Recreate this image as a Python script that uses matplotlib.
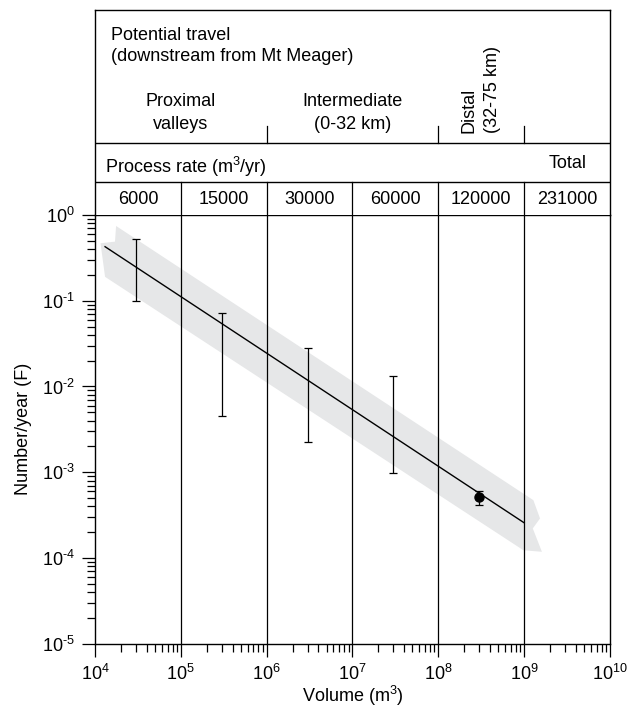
import matplotlib
matplotlib.use("Agg")
import matplotlib.pyplot as plt
import numpy as np
from matplotlib.ticker import FuncFormatter

plt.rcParams["font.family"] = ["Liberation Sans", "DejaVu Sans"]
plt.rcParams["mathtext.fontset"] = "custom"
plt.rcParams["mathtext.rm"] = "Liberation Sans"
plt.rcParams["mathtext.it"] = "Liberation Sans:italic"
plt.rcParams["mathtext.bf"] = "Liberation Sans:bold"
plt.rcParams["font.size"] = 13

# decade boundaries and process rates per volume class
decades = [1e4, 1e5, 1e6, 1e7, 1e8, 1e9, 1e10]
process_rates = ["6000", "15000", "30000", "60000", "120000", "231000"]
travel_dividers = [1e6, 1e8, 1e9]

# best-fit frequency line
fit_volume = [1.31e4, 1e9]
fit_freq = [0.427, 2.57e-4]

# uncertainty band outline
band_volume = [1.76e4, 1.28e9, 1.53e9, 1.26e9, 1.61e9, 9.8e8, 1.31e4, 1.16e4, 1.71e4]
band_freq = [0.745, 4.72e-4, 2.89e-4, 2.21e-4, 1.18e-4, 1.23e-4, 0.19, 0.468, 0.489]

# range bars per volume class
range_volume = [3e4, 3e5, 3e6, 3e7]
range_low = [0.10, 0.0045, 0.00223, 0.00098]
range_high = [0.52, 0.071, 0.028, 0.0133]

# observed event
obs_volume = [3e8]
obs_freq = [5.2e-4]
obs_low = [4.2e-4]
obs_high = [6.1e-4]


def power_label(value, _pos):
    exp = int(round(np.log10(value)))
    return r"$\mathdefault{10^{\text{%d}}}$" % exp


W, H = 637, 710
fig = plt.figure(figsize=(W / 100, H / 100), dpi=100)

left, right = 95 / W, 610 / W
ax_bottom, ax_top = (H - 643.7) / H, (H - 215) / H
head_top = (H - 10) / H

ax = fig.add_axes([left, ax_bottom, right - left, ax_top - ax_bottom])
hx = fig.add_axes([left, ax_top, right - left, head_top - ax_top])

ax.set_xscale("log")
ax.set_yscale("log")
ax.set_xlim(1e4, 1e10)
ax.set_ylim(1e-5, 1)

ax.fill(band_volume, band_freq, color="#e6e7e8", lw=0, zorder=1)
for d in decades[1:-1]:
    ax.axvline(d, color="black", lw=0.9, zorder=2)
ax.plot(fit_volume, fit_freq, color="black", lw=1.0, zorder=3)

lo = np.array(range_low)
hi = np.array(range_high)
ax.errorbar(range_volume, hi, yerr=[hi - lo, np.zeros_like(hi)], fmt="none",
            ecolor="black", elinewidth=0.9, capsize=2.8, capthick=0.9, zorder=4)
olo = np.array(obs_low)
ohi = np.array(obs_high)
of = np.array(obs_freq)
ax.errorbar(obs_volume, of, yerr=[of - olo, ohi - of], fmt="o", color="black",
            ms=6.5, elinewidth=0.9, capsize=3, capthick=0.9, zorder=5)

ax.set_xticks(decades)
ax.set_yticks([1e-5, 1e-4, 1e-3, 1e-2, 1e-1, 1])
ax.xaxis.set_major_formatter(FuncFormatter(power_label))
ax.yaxis.set_major_formatter(FuncFormatter(power_label))
ax.tick_params(which="major", direction="out", length=9.3, width=0.9, pad=5)
ax.tick_params(which="minor", direction="out", length=5.6, width=0.9)
ax.tick_params(axis="x", which="major", pad=5)
for s in ax.spines.values():
    s.set_linewidth(1.0)
ax.set_xlabel("Volume (m$^3$)", labelpad=0)
ax.set_ylabel("Number/year (F)", labelpad=7)

# header table
hx.set_xscale("log")
hx.set_xlim(1e4, 1e10)
hx.set_ylim(0, 1)
hx.set_xticks([])
hx.set_yticks([])
hx.minorticks_off()
for s in hx.spines.values():
    s.set_linewidth(1.0)
hx.spines["bottom"].set_visible(False)

row_num_top = (215 - 181.7) / 205
row_rate_top = (215 - 143.3) / 205
tick_top = (215 - 126) / 205
hx.axhline(row_num_top, color="black", lw=1.0)
hx.axhline(row_rate_top, color="black", lw=1.0)
for d in decades[1:-1]:
    hx.plot([d, d], [0, row_num_top], color="black", lw=0.9)
for d in travel_dividers:
    hx.plot([d, d], [row_rate_top, tick_top], color="black", lw=0.9)

for a, b, rate in zip(decades[:-1], decades[1:], process_rates):
    hx.text(np.sqrt(a * b), (215 - 199.3) / 205, rate, ha="center", va="center")

hx.text(0.0194, (215 - 166.7) / 205, "Process rate (m$^3$/yr)", transform=hx.transAxes,
        ha="left", va="center")
hx.text(0.9548, (215 - 163) / 205, "Total", transform=hx.transAxes, ha="right", va="center")
hx.text(0.0305, (215 - 46) / 205, "Potential travel\n(downstream from Mt Meager)",
        transform=hx.transAxes, ha="left", va="center", linespacing=1.37)
hx.text(1e5, (215 - 113.3) / 205, "Proximal\nvalleys", ha="center", va="center",
        linespacing=1.45)
hx.text(1e7, (215 - 113.3) / 205, "Intermediate\n(0-32 km)", ha="center", va="center",
        linespacing=1.45)
hx.text(10 ** 8.5, (215 - 133) / 205, "Distal\n(32-75 km)", ha="center", va="bottom",
        rotation=90, multialignment="left", linespacing=1.5)

fig.savefig("out.png", dpi=100)
